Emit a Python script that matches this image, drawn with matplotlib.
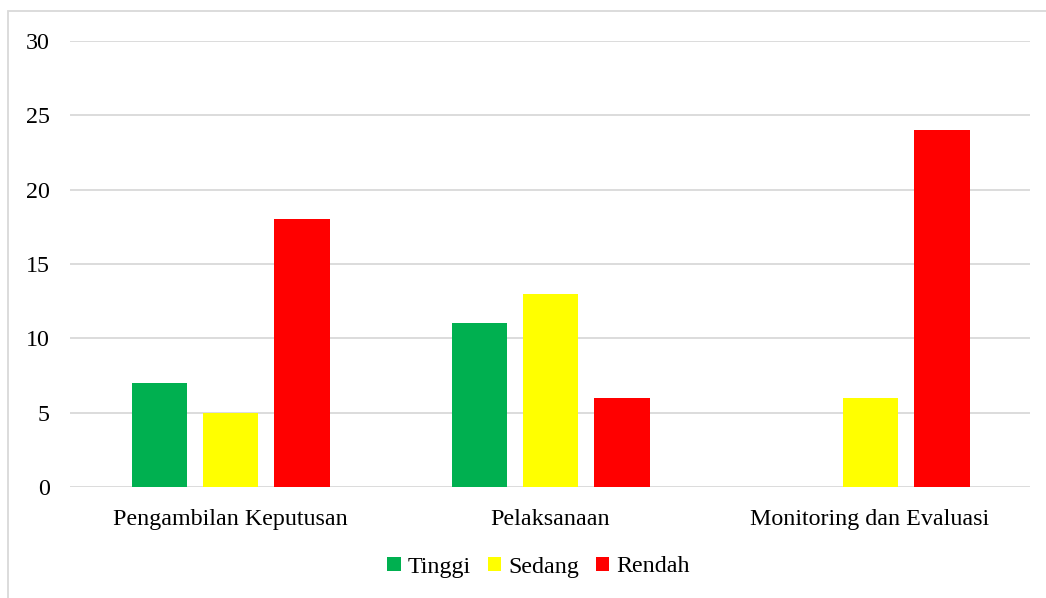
import matplotlib
matplotlib.use("Agg")
import matplotlib.pyplot as plt
import numpy as np
from matplotlib.patches import Rectangle

categories = ["Pengambilan Keputusan", "Pelaksanaan", "Monitoring dan Evaluasi"]
series_names = ["Tinggi", "Sedang", "Rendah"]
tinggi = [7, 11, 0]
sedang = [5, 13, 6]
rendah = [18, 6, 24]
colors = ["#00B050", "#FFFF00", "#FF0000"]
yticks = [0, 5, 10, 15, 20, 25, 30]

plt.rcParams['font.family'] = ['Liberation Serif', 'DejaVu Serif']

W, H = 1046, 598
fig = plt.figure(figsize=(W/100, H/100), dpi=100)
ax = fig.add_axes([70/W, 1-487/H, (1030-70)/W, (487-41)/H])

x = np.arange(len(categories))
bw = 0.172
step = 0.222
for i, (vals, name, c) in enumerate(zip([tinggi, sedang, rendah], series_names, colors)):
    ax.bar(x + (i-1)*step + 0.003, vals, width=bw, color=c, label=name, zorder=3)

ax.set_xlim(-0.5, 2.5)
ax.set_ylim(0, 30)
ax.set_yticks(yticks)
ax.set_yticklabels([str(v) for v in yticks], fontsize=17.3)
ax.set_xticks(x)
ax.set_xticklabels(categories, fontsize=17.3)
ax.tick_params(axis='both', length=0)
ax.tick_params(axis='y', pad=14.4)
ax.tick_params(axis='x', pad=15.5)
ax.grid(axis='y', color='#D9D9D9', linewidth=1.3, zorder=0)
for s in ax.spines.values():
    s.set_visible(False)

leg = fig.legend(loc='center', bbox_to_anchor=(538.5/W, 1-567/H), ncol=3, frameon=False,
                 fontsize=17.3, handlelength=0.55, handleheight=0.55, handletextpad=0.3,
                 columnspacing=0.7)

fig.patches.append(Rectangle((8/W, -0.1), 1.2, 1.1 - 11/H, transform=fig.transFigure,
                             fill=False, edgecolor='#D9D9D9', linewidth=1.3))

fig.savefig("out.png", dpi=100)
